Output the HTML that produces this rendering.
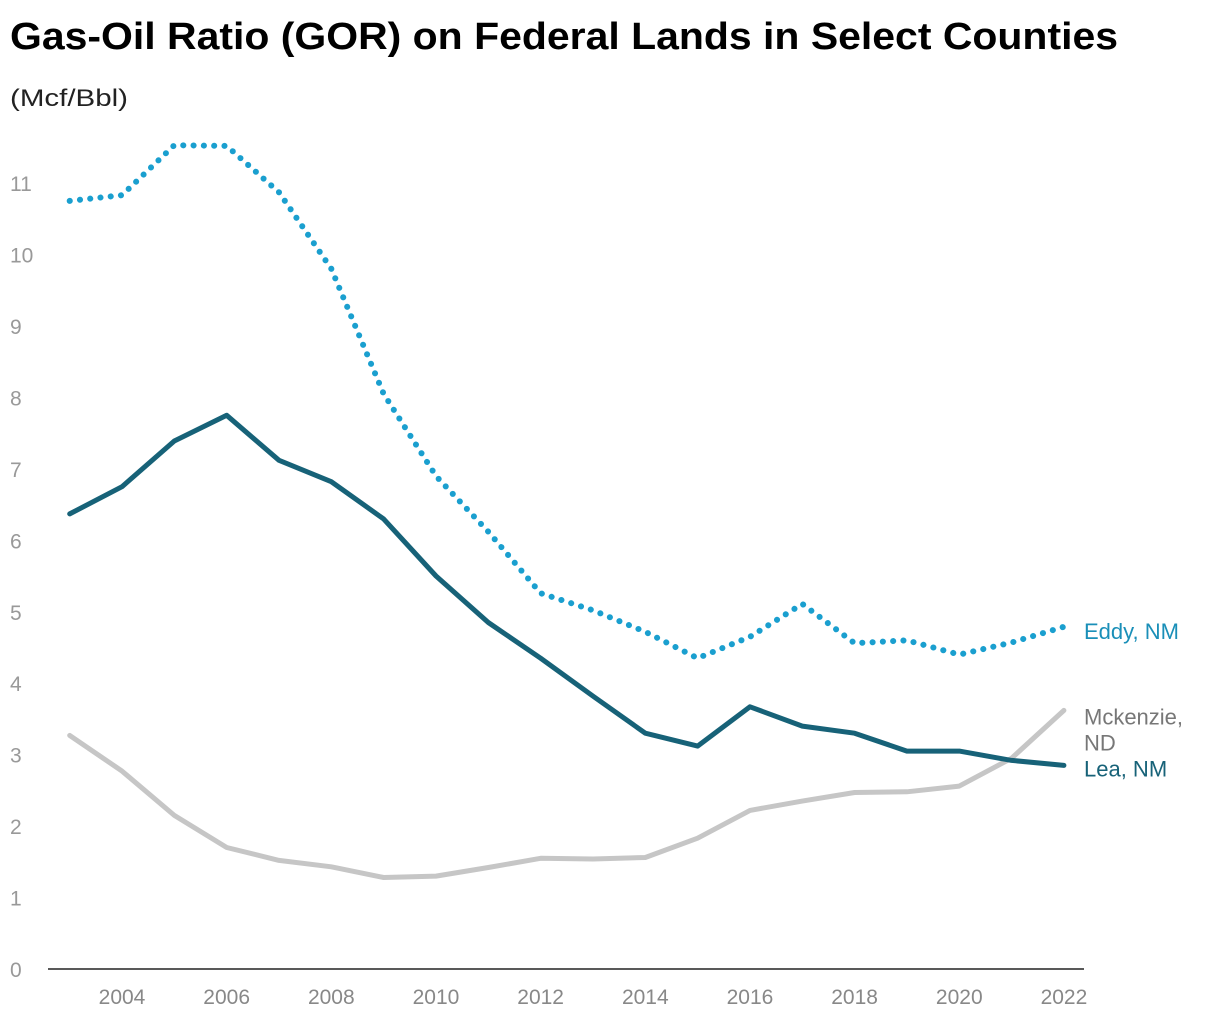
<!DOCTYPE html>
<html><head><meta charset="utf-8"><style>
body{margin:0;background:#fff;font-family:"Liberation Sans",sans-serif;}
svg text{font-family:"Liberation Sans",sans-serif;}
</style></head><body>
<svg id="chart" width="1220" height="1020" xmlns="http://www.w3.org/2000/svg">
<text x="10" y="49" font-size="38" font-weight="bold" fill="#000" textLength="1108" lengthAdjust="spacingAndGlyphs">Gas-Oil Ratio (GOR) on Federal Lands in Select Counties</text>
<text x="10" y="106" font-size="24" fill="#222" textLength="118" lengthAdjust="spacingAndGlyphs">(Mcf/Bbl)</text>
<g id="yticks"></g><g id="xticks"></g><g id="lines"></g><g id="labels"></g>
<line x1="48" y1="969" x2="1084" y2="969" stroke="#222" stroke-width="1.5"/>
</svg>
<script>
const years=[2003,2004,2005,2006,2007,2008,2009,2010,2011,2012,2013,2014,2015,2016,2017,2018,2019,2020,2021,2022];
const eddy=[10.75,10.83,11.53,11.52,10.87,9.8,8.05,6.9,6.12,5.26,5.02,4.72,4.35,4.65,5.11,4.56,4.6,4.4,4.57,4.79];
const lea=[6.37,6.75,7.39,7.75,7.12,6.82,6.3,5.5,4.85,4.35,3.82,3.3,3.12,3.67,3.4,3.3,3.05,3.05,2.92,2.85];
const mck=[3.27,2.77,2.15,1.7,1.52,1.43,1.28,1.3,1.42,1.55,1.54,1.56,1.83,2.22,2.35,2.47,2.48,2.56,2.95,3.62];
const yTicks=[0,1,2,3,4,5,6,7,8,9,10,11];
const xTicks=[2004,2006,2008,2010,2012,2014,2016,2018,2020,2022];
const NS="http://www.w3.org/2000/svg";
const X=v=>122+(v-2004)*52.33;
const Y=v=>969-v*71.45;
function mk(tag,attrs,parent){const e=document.createElementNS(NS,tag);for(const k in attrs)e.setAttribute(k,attrs[k]);document.getElementById(parent).appendChild(e);return e;}
yTicks.forEach(t=>{const e=mk('text',{x:10,y:Y(t)+8,'font-size':21,fill:'#999'},'yticks');e.textContent=t;

});
xTicks.forEach(t=>{const e=mk('text',{x:X(t),y:1004,'font-size':21,fill:'#888','text-anchor':'middle'},'xticks');e.textContent=t;

});
function pts(arr){return arr.map((v,i)=>X(years[i]).toFixed(1)+','+Y(v).toFixed(1)).join(' ');}
const m=mk('polyline',{points:pts(mck),fill:'none',stroke:'#c6c6c6','stroke-width':5,'stroke-linejoin':'round','stroke-linecap':'round'},'lines');


const l=mk('polyline',{points:pts(lea),fill:'none',stroke:'#176278','stroke-width':5,'stroke-linejoin':'round','stroke-linecap':'round'},'lines');


const e=mk('polyline',{points:pts(eddy),fill:'none',stroke:'#1a9fcf','stroke-width':6,'stroke-linejoin':'round','stroke-linecap':'round','stroke-dasharray':'0.1 10.2'},'lines');


const lab=[['Eddy, NM',eddy,'#1a8fb8','eddy-label',12],['Lea, NM',lea,'#176278','lea-label',11]];
lab.forEach(d=>{const t=mk('text',{x:1084,y:Y(d[1][d[1].length-1])+d[4],'font-size':22,fill:d[2]},'labels');t.textContent=d[0];

});
const mt=mk('text',{x:1084,y:Y(mck[mck.length-1])+14,'font-size':22,fill:'#777'},'labels');


mt.innerHTML='<tspan x="1084">Mckenzie,</tspan><tspan x="1084" dy="26">ND</tspan>';
</script>
</body></html>
